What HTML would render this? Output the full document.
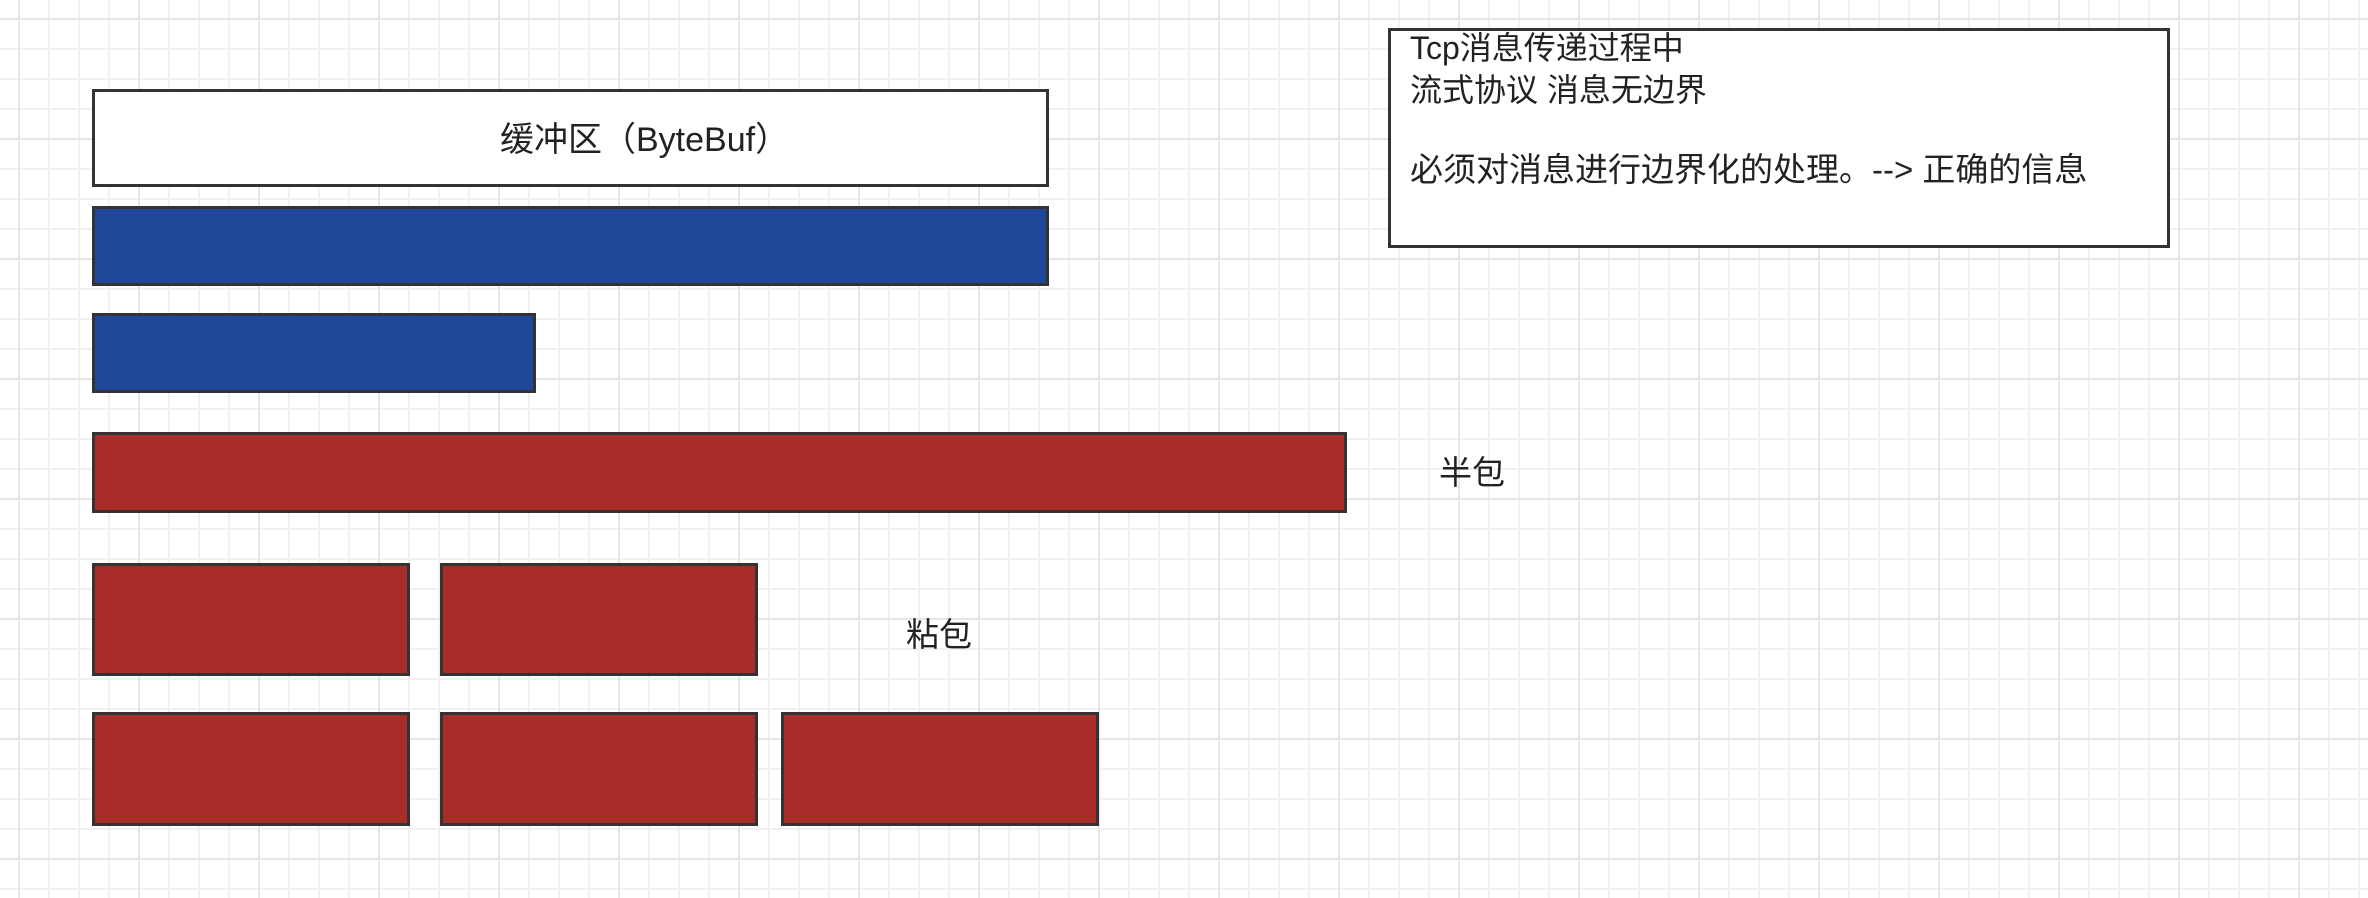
<!DOCTYPE html>
<html><head><meta charset="utf-8"><style>
html,body{margin:0;padding:0;}
body{width:2368px;height:898px;position:relative;overflow:hidden;background:#fff;
background-image:
linear-gradient(to right,#e6e6e6 2px,transparent 2px),
linear-gradient(to bottom,#e6e6e6 2px,transparent 2px),
linear-gradient(to right,#f1f1f1 2px,transparent 2px),
linear-gradient(to bottom,#f1f1f1 2px,transparent 2px);
background-size:120px 120px,120px 120px,30px 30px,30px 30px;
background-position:18px 18px,18px 18px,18px 18px,18px 18px;
font-family:"Liberation Sans","Noto Sans CJK SC",sans-serif;color:#222;}
.r{position:absolute;box-sizing:border-box;border:3.5px solid #333;}
.b{background:#21479b;}
.d{background:#a82d28;}
.t{position:absolute;font-size:32px;white-space:nowrap;line-height:1.2;}
</style></head><body>
<div class="r" style="left:92px;top:89px;width:957px;height:98px;background:#fff;"></div>
<div class="t" style="left:500px;top:120px;font-size:34px;">缓冲区（ByteBuf）</div>
<div class="r b" style="left:92px;top:206px;width:957px;height:80px;"></div>
<div class="r b" style="left:92px;top:313px;width:444px;height:80px;"></div>
<div class="r d" style="left:92px;top:432px;width:1255px;height:81px;"></div>
<div class="t" style="left:1439px;top:453px;font-size:33px;">半包</div>
<div class="r d" style="left:92px;top:563px;width:318px;height:113px;"></div>
<div class="r d" style="left:440px;top:563px;width:318px;height:113px;"></div>
<div class="t" style="left:906px;top:615px;font-size:33px;">粘包</div>
<div class="r d" style="left:92px;top:712px;width:318px;height:114px;"></div>
<div class="r d" style="left:440px;top:712px;width:318px;height:114px;"></div>
<div class="r d" style="left:781px;top:712px;width:318px;height:114px;"></div>
<div class="r" style="left:1388px;top:28px;width:782px;height:220px;background:#fff;"></div>
<div class="t" style="left:1410px;top:29px;">Tcp消息传递过程中</div>
<div class="t" style="left:1410px;top:71px;">流式协议 消息无边界</div>
<div class="t" style="left:1410px;top:150px;font-size:33px;">必须对消息进行边界化的处理。--&gt; 正确的信息</div>
</body></html>
